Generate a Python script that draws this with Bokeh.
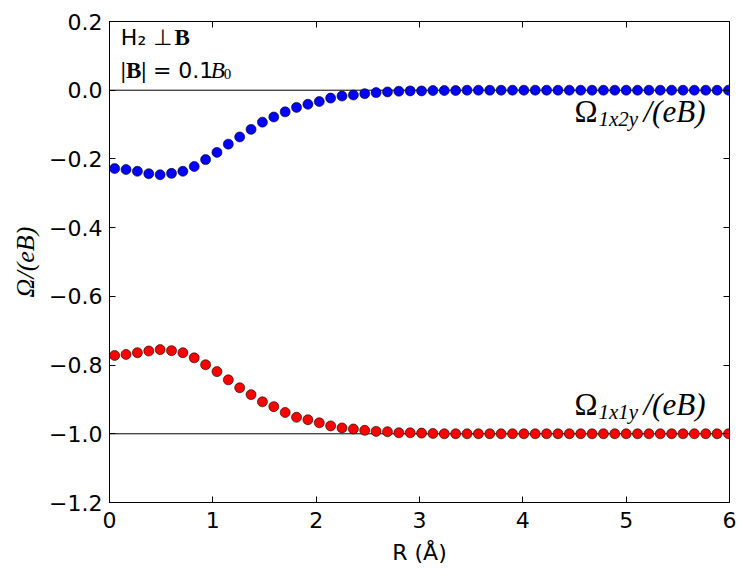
from bokeh.plotting import figure
from bokeh.models import Span, Label, FixedTicker, LinearAxis, Range1d, ColumnDataSource
from bokeh.embed import file_html
from bokeh.resources import INLINE

# ---- data ----
R = [0.05, 0.16, 0.27, 0.38, 0.49, 0.60, 0.71, 0.82, 0.93, 1.04,
     1.15, 1.26, 1.37, 1.48, 1.59, 1.70, 1.81, 1.92, 2.03, 2.14,
     2.25, 2.36, 2.47, 2.58, 2.69, 2.80, 2.91, 3.02, 3.13, 3.24,
     3.35, 3.46, 3.57, 3.68, 3.79, 3.90, 4.01, 4.12, 4.23, 4.34,
     4.45, 4.56, 4.67, 4.78, 4.89, 5.00, 5.11, 5.22, 5.33, 5.44,
     5.55, 5.66, 5.77, 5.88, 5.99]

omega_1x2y = [-0.228, -0.231, -0.236, -0.243, -0.246, -0.242, -0.236, -0.222, -0.202, -0.181,
              -0.157, -0.136, -0.114, -0.093, -0.078, -0.063, -0.050, -0.041, -0.033, -0.023,
              -0.017, -0.014, -0.010, -0.007, -0.005, -0.003, -0.002, -0.002, -0.001, -0.001,
              -0.001, 0.0, 0.0, 0.0, 0.0, 0.0, 0.0, 0.0, 0.0, 0.0,
              0.0, 0.0, 0.0, 0.0, 0.0, 0.0, 0.0, 0.0, 0.0, 0.0,
              0.0, 0.0, 0.0, 0.0, 0.0]

omega_1x1y = [-0.772, -0.769, -0.764, -0.759, -0.755, -0.758, -0.764, -0.779, -0.799, -0.819,
              -0.843, -0.866, -0.886, -0.907, -0.921, -0.938, -0.952, -0.959, -0.968, -0.977,
              -0.983, -0.986, -0.990, -0.993, -0.994, -0.997, -0.997, -0.998, -0.999, -1.0,
              -1.0, -1.0, -1.0, -1.0, -1.0, -1.0, -1.0, -1.0, -1.0, -1.0,
              -1.0, -1.0, -1.0, -1.0, -1.0, -1.0, -1.0, -1.0, -1.0, -1.0,
              -1.0, -1.0, -1.0, -1.0, -1.0]

x_ticks = [0, 1, 2, 3, 4, 5, 6]
x_tick_labels = ["0", "1", "2", "3", "4", "5", "6"]
y_ticks = [-1.2, -1.0, -0.8, -0.6, -0.4, -0.2, 0.0, 0.2]
y_tick_labels = ["\u22121.2", "\u22121.0", "\u22120.8", "\u22120.6", "\u22120.4", "\u22120.2", "0.0", "0.2"]
ref_levels = [0.0, -1.0]

SANS = "DejaVu Sans"
SERIF = "Liberation Serif"

p = figure(width=746, height=579,
           min_border_left=109, min_border_right=17, min_border_top=21, min_border_bottom=77,
           x_range=Range1d(0, 6), y_range=Range1d(-1.2, 0.2),
           output_backend="svg", toolbar_location=None)
p.background_fill_color = "white"
p.border_fill_color = "white"
p.outline_line_color = "black"
p.outline_line_width = 1
p.outline_line_alpha = 1
p.grid.visible = False

def style_axis(ax, show_labels):
    ax.major_tick_in = 6
    ax.major_tick_out = 0
    ax.minor_tick_line_color = None
    ax.major_tick_line_color = "black"
    ax.axis_line_color = "black"
    ax.major_label_text_font = SANS
    ax.major_label_text_color = "black"
    ax.axis_label_text_color = "black"
    if show_labels:
        ax.major_label_text_font_size = "22px"
    else:
        ax.major_label_text_font_size = "1px"
        ax.major_label_text_color = None
        ax.major_label_standoff = 0

xa = p.xaxis[0]
xa.ticker = FixedTicker(ticks=x_ticks)
xa.major_label_overrides = dict(zip(x_ticks, x_tick_labels))
style_axis(xa, True)
xa.major_label_standoff = 9
xa.axis_label = "R (\u00c5)"
xa.axis_label_text_font = SANS
xa.axis_label_text_font_style = "normal"
xa.axis_label_text_font_size = "22px"
xa.axis_label_standoff = 9

ya = p.yaxis[0]
ya.ticker = FixedTicker(ticks=y_ticks)
ya.major_label_overrides = dict(zip(y_ticks, y_tick_labels))
style_axis(ya, True)
ya.major_label_standoff = 7
ya.axis_label = "\u03a9/(eB)"
ya.axis_label_text_font = SERIF
ya.axis_label_text_font_style = "italic"
ya.axis_label_text_font_size = "26px"
ya.axis_label_standoff = 6

top = LinearAxis(ticker=FixedTicker(ticks=x_ticks))
style_axis(top, False)
p.add_layout(top, "above")
right = LinearAxis(ticker=FixedTicker(ticks=y_ticks))
style_axis(right, False)
p.add_layout(right, "right")

for lv in ref_levels:
    p.add_layout(Span(location=lv, dimension="width", line_color="black",
                      line_width=1, level="underlay"))

src = ColumnDataSource(dict(R=R, a=omega_1x2y, b=omega_1x1y))
p.scatter("R", "a", source=src, size=10, fill_color="#0000ff",
          line_color="black", line_width=0.6)
p.scatter("R", "b", source=src, size=10, fill_color="#ff0000",
          line_color="black", line_width=0.6)

def lab(x, y, text, font, size, style="normal", dx=0, dy=0):
    p.add_layout(Label(x=x, y=y, x_offset=dx, y_offset=dy, text=text,
                       text_font=font, text_font_size=size, text_font_style=style,
                       text_color="black", text_baseline="alphabetic", text_align="left"))

# curve labels
for yb, sub in [(-0.062, "1x2y"), (-0.915, "1x1y")]:
    lab(4.5, yb, "\u03a9", SERIF, "31px")
    lab(4.5, yb, sub, SERIF, "21px", "italic", dx=24, dy=-7)
    lab(4.5, yb, "/(eB)", SERIF, "31px", "italic", dx=69)

# top-left annotation
lab(0.11, 0.154, "H\u2082  \u22a5", SANS, "22px")
lab(0.63, 0.154, "B", SERIF, "23px", "bold")
lab(0.11, 0.058, "|B|", SERIF, "23px", "bold")
lab(0.42, 0.058, "= 0.1", SANS, "22px")
lab(0.98, 0.058, "B", SERIF, "23px", "italic")
lab(0.98, 0.058, "0", SERIF, "15px", dx=13, dy=-4)

open("out.html", "w").write(file_html(p, INLINE))
